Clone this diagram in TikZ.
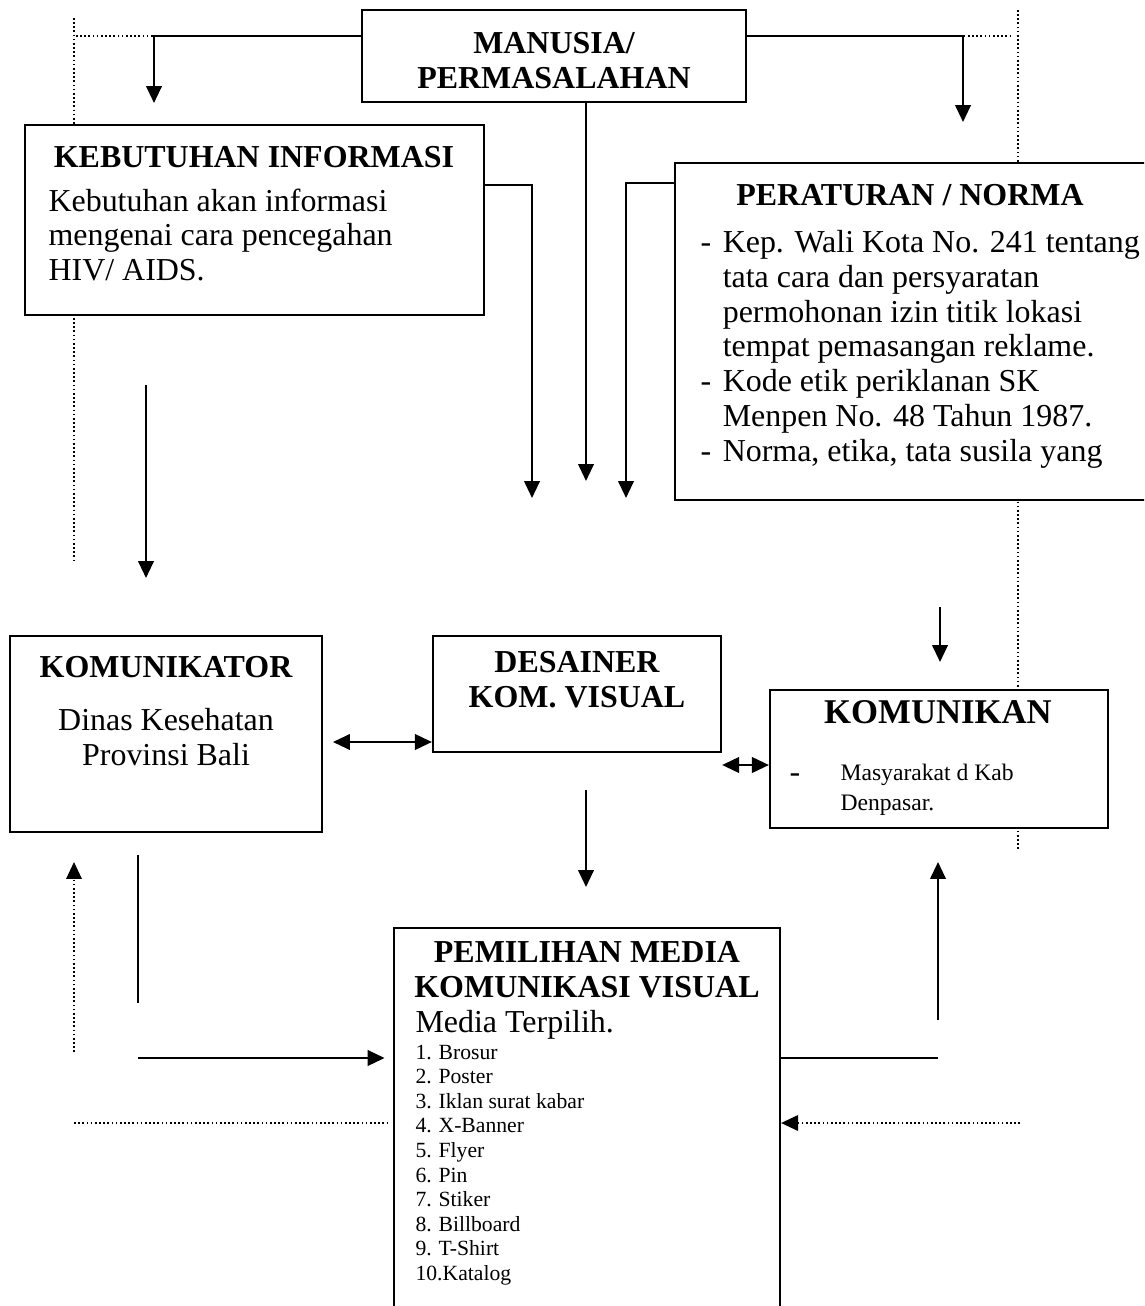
\documentclass[tikz,border=0pt]{standalone}
\usepackage{fontspec}
\setmainfont{Liberation Serif}
\usetikzlibrary{arrows.meta}

\newcommand{\itemdash}{\makebox[8pt][l]{-}}
\newcommand{\itemgap}{\hspace*{8pt}}

\begin{document}
\begin{tikzpicture}[x=0.36pt, y=-0.36pt,
        box/.style={rectangle, draw, line width=0.8pt, fill=white, inner sep=0pt},
        boxsize/.style 2 args={minimum width=#1*0.36pt, minimum height=#2*0.36pt},
        ttl/.style={font=\fontsize{11.5}{12.6}\selectfont\bfseries, inner sep=0pt, align=center},
        txt/.style={font=\fontsize{11.5}{12.5}\selectfont, inner sep=0pt, align=left, anchor=north west},
        listitem/.style={font=\fontsize{7.8}{8.8}\selectfont, inner sep=0pt, anchor=base west},
        link/.style={line width=0.8pt},
        dots/.style={line width=0.6pt, dash pattern=on 0.6pt off 0.9pt},
        >={Triangle[length=6.1pt, width=5.6pt]}
    ]
    \useasboundingbox (0,0) rectangle (1144,1306);
    \clip (0,0) rectangle (1144,1306);

    % dotted guides, behind the boxes
    \draw[dots] (74,18) -- (74,563);
    \draw[dots] (1018,10) -- (1018,850);

    % boxes
    \node[box, boxsize={384}{92}] (manusia) at (554,56) {};
    \node[box, boxsize={459}{190}] (kebutuhan) at (254.5,220) {};
    \node[box, boxsize={485}{337}] (peraturan) at (917.5,331.5) {};
    \node[box, boxsize={312}{196}] (komunikator) at (166,734) {};
    \node[box, boxsize={288}{116}] (desainer) at (577,694) {};
    \node[box, boxsize={338}{138}] (komunikan) at (939,759) {};
    \node[box, boxsize={386}{410}] (pemilihan) at (587,1133) {};

    % texts
    \node[ttl] (manusiatext) at (554,61) {MANUSIA/\\PERMASALAHAN};
    \node[ttl] (kebutuhantitle) at (254,157) {KEBUTUHAN INFORMASI};
    \node[txt] (kebutuhantext) at (48,188) {Kebutuhan akan informasi\\mengenai cara pencegahan\\HIV/ AIDS.};
    \node[ttl] (peraturantitle) at (910,195) {PERATURAN / NORMA};
    \node[txt] (peraturantext) at (700,230) {\itemdash Kep. Wali Kota No. 241 tentang\\
        \itemgap tata cara dan persyaratan\\
        \itemgap permohonan izin titik lokasi\\
        \itemgap tempat pemasangan reklame.\\
        \itemdash Kode etik periklanan SK\\
        \itemgap Menpen No. 48 Tahun 1987.\\
        \itemdash Norma, etika, tata susila yang};
    \node[ttl] (komunikatortitle) at (166,667) {KOMUNIKATOR};
    \node[txt, anchor=center, align=center] (komunikatortext) at (166,737) {Dinas Kesehatan\\Provinsi Bali};
    \node[ttl] (desainertext) at (577,680) {DESAINER\\KOM. VISUAL};
    \node[ttl, font=\fontsize{12.5}{13}\selectfont\bfseries] (komunikantitle) at (938,712) {KOMUNIKAN};
    \node[inner sep=0pt, font=\fontsize{11.5}{12}\selectfont] (komunikandash) at (795,778) {-};
    \node[txt, font=\fontsize{8.5}{10.5}\selectfont] (komunikantext) at (840,764) {Masyarakat d Kab\\Denpasar.};
    \node[ttl] (pemilihantitle) at (587,970) {PEMILIHAN MEDIA\\KOMUNIKASI VISUAL};
    \node[inner sep=0pt, anchor=base west, font=\fontsize{11.5}{13}\selectfont] (mediaterpilih) at (415,1032) {Media Terpilih.};
    \foreach \i/\m in {1/Brosur, 2/Poster, 3/Iklan surat kabar, 4/X-Banner, 5/Flyer,
        6/Pin, 7/Stiker, 8/Billboard, 9/T-Shirt}
        \node[listitem] (media\i) at (415,{1059+24.6*(\i-1)}) {\makebox[8.3pt][l]{\i.}\m};
    \node[listitem] (media10) at (415,1280) {10.Katalog};

    % free ends
    \coordinate (topleft) at (74,36);
    \coordinate (topright) at (1012,36);
    \coordinate (kebtip) at (154,103);
    \coordinate (pertip) at (963,122);
    \coordinate (kebelbow) at (532,185);
    \coordinate (kebout) at (532,498);
    \coordinate (manout) at (586,481);
    \coordinate (perelbow) at (626,183);
    \coordinate (perout) at (626,498);
    \coordinate (komin) at (146,385);
    \coordinate (dblleft) at (333,742);
    \coordinate (dblmid) at (745,765);
    \coordinate (kmin) at (940,607);
    \coordinate (desout) at (586,790);
    \coordinate (backup) at (74,1052);
    \coordinate (backline) at (138,855);
    \coordinate (toleft) at (138,1058);
    \coordinate (dotleft) at (74,1123);
    \coordinate (toright) at (938,1058);
    \coordinate (upright) at (938,1020);
    \coordinate (dotright) at (1020,1123);

    % connectors
    \draw[dots] (topleft -| manusia.west) -- (topleft);
    \draw[link,->] (topleft -| manusia.west) -| (kebtip);
    \draw[dots] (topright -| manusia.east) -- (topright);
    \draw[link,->] (topright -| manusia.east) -| (pertip);
    \draw[link,->] (kebelbow -| kebutuhan.east) -- (kebelbow) -- (kebout);
    \draw[link,->] (manout |- manusia.south) -- (manout);
    \draw[link,->] (perelbow -| peraturan.west) -- (perelbow) -- (perout);
    \draw[link,->] (komin) -- +(0,193);
    \draw[link,<->] (dblleft) -- (dblleft -| desainer.west);
    \draw[link,<->] (dblmid -| desainer.east) -- (dblmid -| komunikan.west);
    \draw[link,->] (kmin) -- +(0,55);
    \draw[link,->] (desout) -- +(0,97);
    \draw[dots,->] (backup) -- +(0,-190);
    \draw[link] (backline) -- +(0,148);
    \draw[link,->,shorten >=3pt] (toleft) -- (toleft -| pemilihan.west);
    \draw[dots] (dotleft) -- ([xshift=-1.5pt]dotleft -| pemilihan.west);
    \draw[link] (toright -| pemilihan.east) -- (toright);
    \draw[link,->] (upright) -- +(0,-158);
    \draw[dots,->] (dotright) -- (dotright -| pemilihan.east);
\end{tikzpicture}
\end{document}
